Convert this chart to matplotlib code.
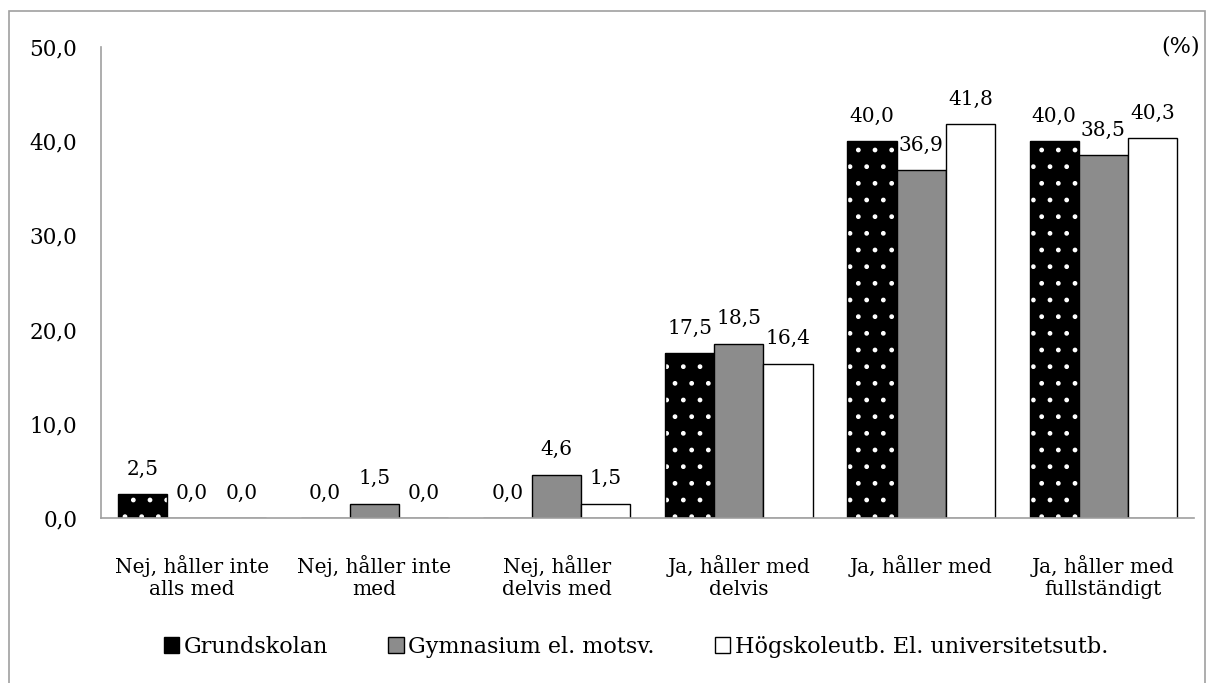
import matplotlib.pyplot as plt
from matplotlib.patches import Rectangle, Patch
import numpy as np

plt.rcParams['font.family'] = ['DejaVu Serif']

categories = ["Nej, håller inte\nalls med", "Nej, håller inte\nmed", "Nej, håller\ndelvis med",
              "Ja, håller med\ndelvis", "Ja, håller med", "Ja, håller med\nfullständigt"]
grundskolan = [2.5, 0.0, 0.0, 17.5, 40.0, 40.0]
gymnasium = [0.0, 1.5, 4.6, 18.5, 36.9, 38.5]
hogskola = [0.0, 0.0, 1.5, 16.4, 41.8, 40.3]
series_names = ["Grundskolan", "Gymnasium el. motsv.", "Högskoleutb. El. universitetsutb."]
yticks = [0, 10, 20, 30, 40, 50]

fig = plt.figure(figsize=(12.09, 6.83), dpi=100)
ax = fig.add_axes([0.0835, 0.2416, 0.9045, 0.6896])

x = np.arange(len(categories))
w = 0.27

# black bars with white dots: hatch layer, then black outline on top
ax.bar(x - w, grundskolan, w, color='black', edgecolor='white', hatch='.', linewidth=0)
ax.bar(x - w, grundskolan, w, fill=False, edgecolor='black', linewidth=1)
ax.bar(x, gymnasium, w, color='#8c8c8c', edgecolor='black', linewidth=1)
ax.bar(x + w, hogskola, w, color='white', edgecolor='black', linewidth=1)

# value labels above each bar
for offs, vals in [(-w, grundskolan), (0, gymnasium), (w, hogskola)]:
    for i, v in enumerate(vals):
        ax.annotate(f"{v:.1f}".replace('.', ','), (i + offs, v), xytext=(0, 18),
                    textcoords='offset points', ha='center', va='center', fontsize=14.5)

ax.set_xlim(-0.5, 5.5)
ax.set_ylim(0, 50)
ax.set_yticks(yticks)
ax.set_yticklabels([f"{t:.1f}".replace('.', ',') for t in yticks], fontsize=15.5)
ax.set_xticks(x)
ax.set_xticklabels(categories, fontsize=14.5, linespacing=1.2)
ax.tick_params(length=0)
ax.tick_params(axis='x', pad=27)
ax.tick_params(axis='y', pad=17)
for s in ['top', 'right']:
    ax.spines[s].set_visible(False)
for s in ['left', 'bottom']:
    ax.spines[s].set_color('#a0a0a0')
    ax.spines[s].set_linewidth(1.2)

ax.text(1.005, 1.0, "(%)", transform=ax.transAxes, ha='right', va='center', fontsize=16)

handles = [Patch(facecolor='black', edgecolor='black'),
           Patch(facecolor='#8c8c8c', edgecolor='black'),
           Patch(facecolor='white', edgecolor='black')]
fig.legend(handles, series_names, loc='center', bbox_to_anchor=(0.526, 0.053), ncol=3,
           frameon=False, fontsize=16, handlelength=0.7, handleheight=0.7,
           handletextpad=0.2, columnspacing=2.7)

# gray frame around the chart area
fig.patches.append(Rectangle((9 / 1209, -0.05), 1196 / 1209, 1.05 - 11 / 683,
                             transform=fig.transFigure, fill=False, edgecolor='#a0a0a0', linewidth=1.2))

fig.savefig('out.png', dpi=100)
